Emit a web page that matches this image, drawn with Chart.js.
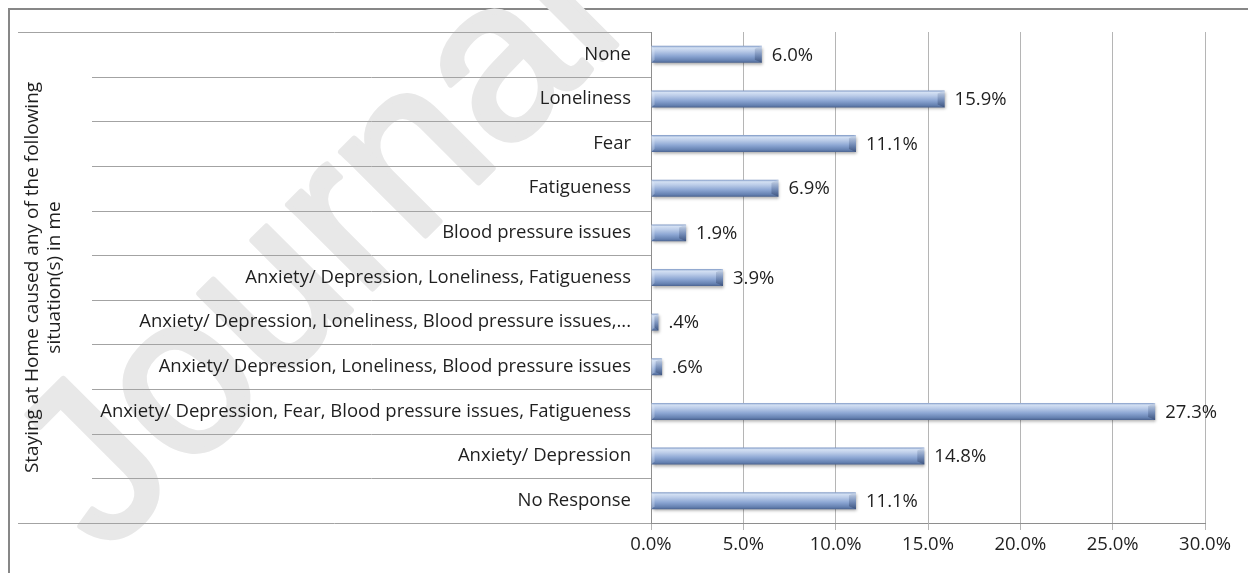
<!DOCTYPE html>
<html>
<head>
<meta charset="utf-8">
<script src="https://cdn.jsdelivr.net/npm/chart.js@4/dist/chart.umd.min.js"></script>
<style>
  html, body { margin: 0; padding: 0; background: #fff; }
  #wrap { position: relative; width: 1248px; height: 573px; overflow: hidden; }
  #frame { position: absolute; left: 8px; top: 8px; width: 1300px; height: 700px; border: 2px solid #878787; box-sizing: border-box; }
  #chart { position: absolute; left: 0; top: 0; }
</style>
</head>
<body>
<div id="wrap">
  <div id="frame"></div>
  <canvas id="chart" width="1248" height="573"></canvas>
</div>
<script>
// ---- data ----
const categories = [
  'None',
  'Loneliness',
  'Fear',
  'Fatigueness',
  'Blood pressure issues',
  'Anxiety/ Depression, Loneliness, Fatigueness',
  'Anxiety/ Depression, Loneliness, Blood pressure issues,...',
  'Anxiety/ Depression, Loneliness, Blood pressure issues',
  'Anxiety/ Depression, Fear, Blood pressure issues, Fatigueness',
  'Anxiety/ Depression',
  'No Response',
];
const percents = [6.0, 15.9, 11.1, 6.9, 1.9, 3.9, 0.4, 0.6, 27.3, 14.8, 11.1];
const xTickValues = [0, 5, 10, 15, 20, 25, 30];
const axisTitle = ['Staying at Home caused any of the following', 'situation(s) in me'];
const watermarkText = 'Journal Pre-proof';

// ---- style ----
const FONT = '"Open Sans", Lato, sans-serif';
const FS = 18.5;
const TEXT = '#1f1f1f';
const BAR_PCT = 0.38;
const LABEL_COL_LEFT = 92;

// SPSS style: ".4%" instead of "0.4%"
const fmtPct = v => (v < 1 ? v.toFixed(1).replace(/^0/, '') : v.toFixed(1)) + '%';

function barFill(c) {
  const chart = c.chart;
  const y = chart.scales && chart.scales.y;
  if (!y || c.dataIndex === undefined) return '#8aa5d2';
  const step = (y.bottom - y.top) / categories.length;
  const h = step * BAR_PCT;
  const cy = y.getPixelForValue(c.dataIndex);
  if (!Number.isFinite(h) || !Number.isFinite(cy)) return '#8aa5d2';
  const g = chart.ctx.createLinearGradient(0, cy - h / 2, 0, cy + h / 2);
  g.addColorStop(0, '#7e98c5');
  g.addColorStop(0.12, '#d3e0f3');
  g.addColorStop(0.3, '#bccde9');
  g.addColorStop(0.6, '#8ca6d3');
  g.addColorStop(0.88, '#6480b0');
  g.addColorStop(1, '#4b6390');
  return g;
}

const watermark = {
  id: 'watermark',
  beforeDraw(chart) {
    const ctx = chart.ctx;
    ctx.save();
    ctx.translate(105, 556);
    ctx.rotate(-Math.PI / 4);
    ctx.font = '225px "Liberation Sans", Arial, sans-serif';
    ctx.fillStyle = '#e8e8e8';
    ctx.strokeStyle = '#e8e8e8';
    ctx.lineWidth = 6;
    ctx.lineJoin = 'round';
    ctx.textBaseline = 'alphabetic';
    ctx.fillText(watermarkText, 0, 0);
    ctx.strokeText(watermarkText, 0, 0);
    ctx.restore();
  }
};

// category separators that run across the label column, Excel style
const separators = {
  id: 'separators',
  afterDraw(chart) {
    const { ctx, scales: { y } } = chart;
    const n = categories.length;
    const step = (y.bottom - y.top) / n;
    ctx.save();
    ctx.strokeStyle = '#a3a3a3';
    ctx.lineWidth = 1;
    ctx.beginPath();
    for (let i = 0; i <= n; i++) {
      const yy = Math.round(y.top + i * step) + 0.5;
      const x0 = (i === 0 || i === n) ? y.left : LABEL_COL_LEFT;
      ctx.moveTo(x0, yy);
      ctx.lineTo(y.right, yy);
    }
    ctx.stroke();
    ctx.restore();
  }
};

const barDeco = {
  id: 'barDeco',
  beforeDatasetsDraw(chart) {
    const ctx = chart.ctx;
    ctx.save();
    ctx.shadowColor = 'rgba(0,0,0,0.35)';
    ctx.shadowBlur = 3;
    ctx.shadowOffsetX = 1;
    ctx.shadowOffsetY = 2;
  },
  afterDatasetsDraw(chart) {
    const ctx = chart.ctx;
    ctx.restore();
    const meta = chart.getDatasetMeta(0);
    ctx.save();
    meta.data.forEach((bar, i) => {
      const top = bar.y - bar.height / 2, bot = bar.y + bar.height / 2;
      const w = Math.min(7, (bar.x - bar.base) * 0.6);
      // bevelled right end
      const g = ctx.createLinearGradient(0, top, 0, bot);
      g.addColorStop(0, 'rgba(230,238,250,0.55)');
      g.addColorStop(0.35, 'rgba(60,85,130,0.25)');
      g.addColorStop(1, 'rgba(40,55,90,0.45)');
      ctx.fillStyle = g;
      ctx.beginPath();
      ctx.moveTo(bar.x - w, top + 3);
      ctx.lineTo(bar.x, top);
      ctx.lineTo(bar.x, bot);
      ctx.lineTo(bar.x - w, bot - 3);
      ctx.closePath();
      ctx.fill();
      // small bevel on the left end
      ctx.fillStyle = 'rgba(230,238,250,0.35)';
      ctx.beginPath();
      ctx.moveTo(bar.base, top);
      ctx.lineTo(bar.base + 3, top + 3);
      ctx.lineTo(bar.base + 3, bot - 3);
      ctx.lineTo(bar.base, bot);
      ctx.closePath();
      ctx.fill();

      // value label
      ctx.fillStyle = TEXT;
      ctx.font = FS + 'px ' + FONT;
      ctx.textAlign = 'left';
      ctx.textBaseline = 'middle';
      ctx.fillText(fmtPct(percents[i]), bar.x + 10, bar.y + 1);
    });
    ctx.restore();
  }
};

new Chart(document.getElementById('chart'), {
  type: 'bar',
  data: {
    labels: categories,
    datasets: [{
      data: percents,
      backgroundColor: barFill,
      borderWidth: 0,
      barPercentage: BAR_PCT,
      categoryPercentage: 1,
    }],
  },
  options: {
    indexAxis: 'y',
    responsive: false,
    animation: false,
    devicePixelRatio: 1,
    layout: { padding: { left: 18, top: 32, right: 43, bottom: 0 } },
    plugins: { legend: { display: false }, tooltip: { enabled: false } },
    scales: {
      x: {
        min: xTickValues[0],
        max: xTickValues[xTickValues.length - 1],
        afterBuildTicks: s => { s.ticks = xTickValues.map(v => ({ value: v })); },
        ticks: { callback: v => v.toFixed(1) + '%', color: TEXT, font: { family: FONT, size: FS }, padding: 4 },
        grid: { color: '#b5b5b5', tickLength: 7 },
        border: { color: '#8e8e8e' },
        afterFit: s => { s.height = 50; },
      },
      y: {
        ticks: { color: TEXT, font: { family: FONT, size: FS }, padding: 12, autoSkip: false },
        grid: { display: false },
        border: { color: '#8e8e8e' },
        title: { display: true, text: axisTitle, color: TEXT, font: { family: FONT, size: 19, lineHeight: 1.15 }, padding: { top: 4, bottom: 2 } },
        afterFit: s => { s.width = 651 - 18; },
      },
    },
  },
  plugins: [watermark, separators, barDeco],
});
</script>
</body>
</html>
